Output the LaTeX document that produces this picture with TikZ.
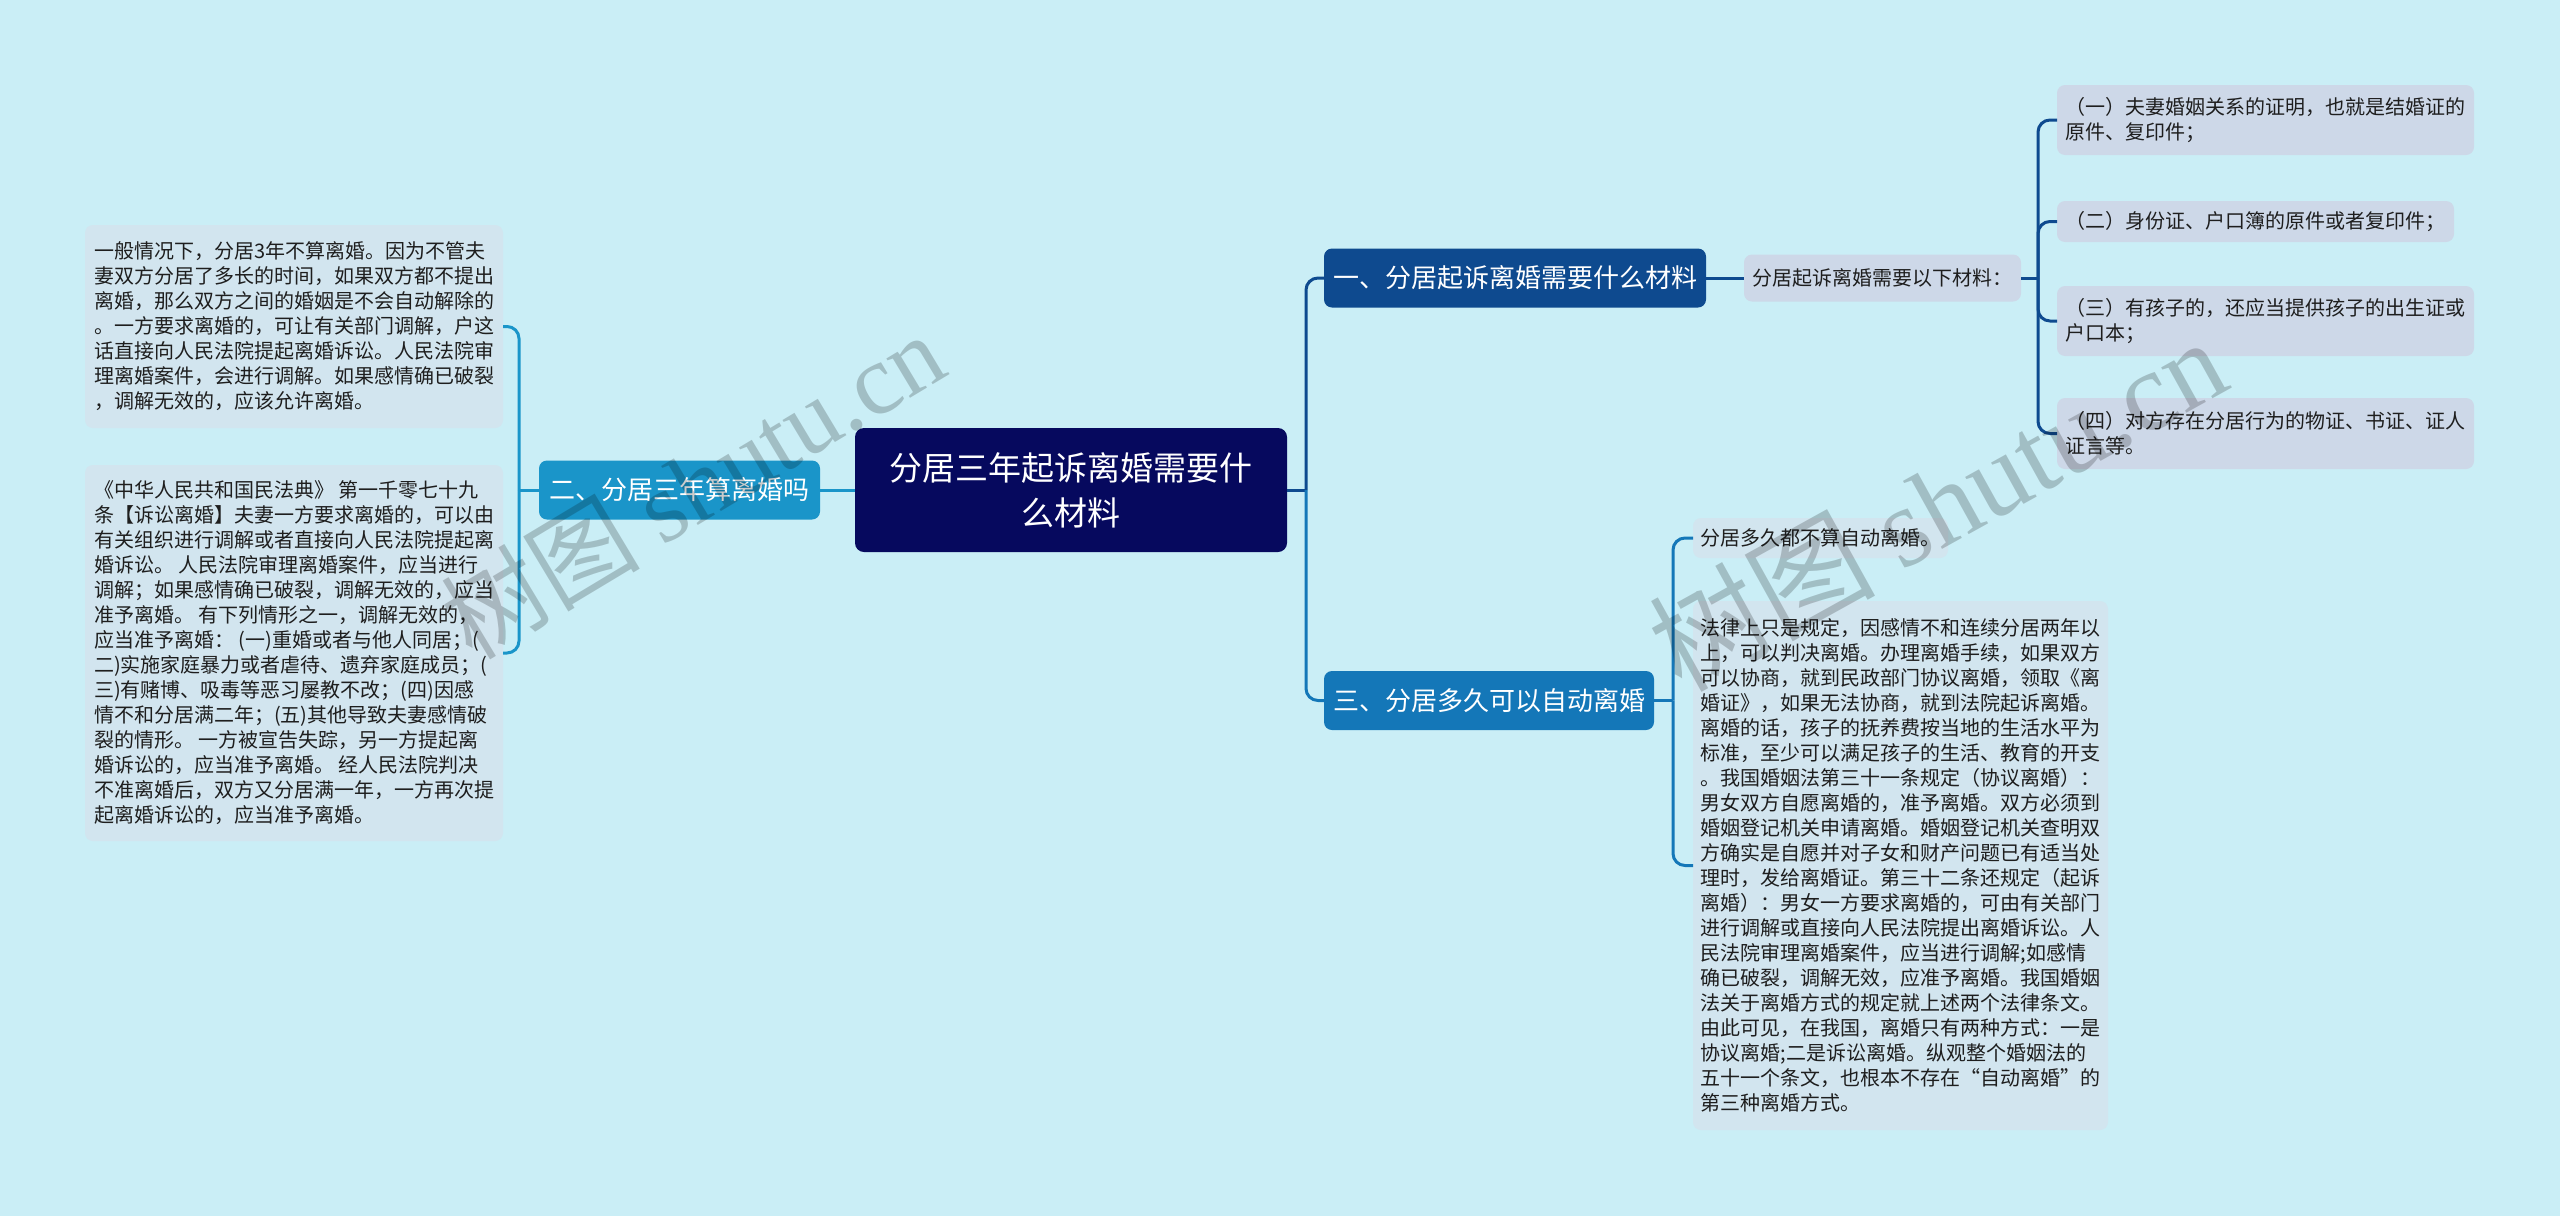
\documentclass[tikz,border=0pt]{standalone}
\usepackage{fontspec}
\setmainfont{Noto Sans CJK SC}
\newfontfamily\wmlatin{Liberation Serif}
\usetikzlibrary{calc}
\definecolor{bgc}{HTML}{CAEEF6}
\definecolor{rootc}{HTML}{06095E}
\definecolor{b1c}{HTML}{0E4A8F}
\definecolor{b2c}{HTML}{1A95C9}
\definecolor{b3c}{HTML}{1477B8}
\definecolor{leafa}{HTML}{CDD8E8}
\definecolor{leafb}{HTML}{D2E5EF}
\definecolor{textc}{HTML}{1E1E1E}
\tikzset{
  every node/.style={inner sep=0pt, outer sep=0pt},
  rootbox/.style={fill=rootc, rounded corners=9pt, text=white, font=\fontsize{33}{45}\selectfont, align=center},
  mainbox/.style={rounded corners=8pt, text=white, font=\fontsize{26}{32}\selectfont, minimum height=59pt},
  leafA/.style={fill=leafa, rounded corners=8pt, text=textc, font=\fontsize{20}{25}\selectfont, align=left},
  leafB/.style={fill=leafb, rounded corners=8pt, text=textc, font=\fontsize{20}{25}\selectfont, align=left},
  link/.style={line width=3pt, rounded corners=12pt},
  wmark/.style={text=black, text opacity=0.2},
}
\begin{document}
\begin{tikzpicture}[x=1pt,y=-1pt]
\useasboundingbox (0,0) rectangle (2560,1216);
\fill[bgc] (0,0) rectangle (2560,1216);

% nodes
\node[rootbox, minimum width=432pt, minimum height=124pt] (root) at (1071,490) {分居三年起诉离婚需要什\\么材料};
\node[mainbox, fill=b2c, minimum width=281pt] (b2) at (679.5,490) {二、分居三年算离婚吗};
\node[mainbox, fill=b1c, minimum width=382pt] (b1) at (1515,278) {一、分居起诉离婚需要什么材料};
\node[mainbox, fill=b3c, minimum width=330pt] (b3) at (1489,700.5) {三、分居多久可以自动离婚};

\node[leafA, minimum width=277pt, minimum height=47pt] (sub) at (1882.5,278) {分居起诉离婚需要以下材料：};
\node[leafA, minimum width=417pt, minimum height=70pt] (L1) at (2265.5,120) {（一）夫妻婚姻关系的证明，也就是结婚证的\\原件、复印件；};
\node[leafA, minimum width=397pt, minimum height=41pt] (L2) at (2255.5,221.5) {（二）身份证、户口簿的原件或者复印件；};
\node[leafA, minimum width=417pt, minimum height=70pt] (L3) at (2265.5,321) {（三）有孩子的，还应当提供孩子的出生证或\\户口本；};
\node[leafA, minimum width=417pt, minimum height=71pt] (L4) at (2265.5,433.5) {（四）对方存在分居行为的物证、书证、证人\\证言等。};

\node[leafB, minimum width=255pt, minimum height=40pt] (M1) at (1820.5,538) {分居多久都不算自动离婚。};
\node[leafB, minimum width=415pt, minimum height=529pt] (M2) at (1900.5,865.5) {法律上只是规定，因感情不和连续分居两年以\\上，可以判决离婚。办理离婚手续，如果双方\\可以协商，就到民政部门协议离婚，领取《离\\婚证》，如果无法协商，就到法院起诉离婚。\\离婚的话，孩子的抚养费按当地的生活水平为\\标准，至少可以满足孩子的生活、教育的开支\\。我国婚姻法第三十一条规定（协议离婚）：\\男女双方自愿离婚的，准予离婚。双方必须到\\婚姻登记机关申请离婚。婚姻登记机关查明双\\方确实是自愿并对子女和财产问题已有适当处\\理时，发给离婚证。第三十二条还规定（起诉\\离婚）：男女一方要求离婚的，可由有关部门\\进行调解或直接向人民法院提出离婚诉讼。人\\民法院审理离婚案件，应当进行调解;如感情\\确已破裂，调解无效，应准予离婚。我国婚姻\\法关于离婚方式的规定就上述两个法律条文。\\由此可见，在我国，离婚只有两种方式：一是\\协议离婚;二是诉讼离婚。纵观整个婚姻法的\\五十一个条文，也根本不存在“自动离婚”的\\第三种离婚方式。};

\node[leafB, minimum width=418pt, minimum height=203pt] (P1) at (294,326.5) {一般情况下，分居3年不算离婚。因为不管夫\\妻双方分居了多长的时间，如果双方都不提出\\离婚，那么双方之间的婚姻是不会自动解除的\\。一方要求离婚的，可让有关部门调解，户这\\话直接向人民法院提起离婚诉讼。人民法院审\\理离婚案件，会进行调解。如果感情确已破裂\\，调解无效的，应该允许离婚。};
\node[leafB, minimum width=418pt, minimum height=376pt] (P2) at (294,653) {《中华人民共和国民法典》 第一千零七十九\\条【诉讼离婚】夫妻一方要求离婚的，可以由\\有关组织进行调解或者直接向人民法院提起离\\婚诉讼。 人民法院审理离婚案件，应当进行\\调解；如果感情确已破裂，调解无效的，应当\\准予离婚。 有下列情形之一，调解无效的，\\应当准予离婚： (一)重婚或者与他人同居；(\\二)实施家庭暴力或者虐待、遗弃家庭成员；(\\三)有赌博、吸毒等恶习屡教不改；(四)因感\\情不和分居满二年；(五)其他导致夫妻感情破\\裂的情形。 一方被宣告失踪，另一方提起离\\婚诉讼的，应当准予离婚。 经人民法院判决\\不准离婚后，双方又分居满一年，一方再次提\\起离婚诉讼的，应当准予离婚。};

% connectors
\draw[link, b1c] (root.east) -- ([xshift=19pt]root.east) coordinate (j1);
\draw[link, b1c] (j1) |- (b1.west);
\draw[link, b3c] (j1) |- (b3.west);
\draw[link, b2c] (root.west) -- (b2.east);
\draw[link, b2c] (b2.west) -- ([xshift=-20pt]b2.west) coordinate (j2);
\draw[link, b2c] (j2) |- (P1.east);
\draw[link, b2c] (j2) |- (P2.east);
\draw[link, b1c] (b1.east) -- (sub.west);
\draw[link, b1c] (sub.east) -- ([xshift=17pt]sub.east) coordinate (j3);
\draw[link, b1c] (j3) |- (L1.west);
\draw[link, b1c] (j3) |- (L2.west);
\draw[link, b1c] (j3) |- (L3.west);
\draw[link, b1c] (j3) |- (L4.west);
\draw[link, b3c] (b3.east) -- ([xshift=19pt]b3.east) coordinate (j4);
\draw[link, b3c] (j4) |- (M1.west);
\draw[link, b3c] (j4) |- (M2.west);

% watermarks
\node[wmark, rotate=31, font=\fontsize{100}{110}\selectfont] (wm1) at (692,485) {树图 {\wmlatin shutu.cn}};
\node[wmark, rotate=29, font=\fontsize{113}{120}\selectfont] (wm2) at (1937,503) {树图 {\wmlatin shutu.cn}};
\end{tikzpicture}
\end{document}
